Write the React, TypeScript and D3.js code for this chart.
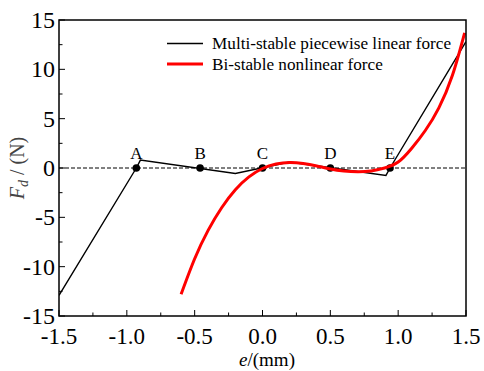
import React from "react";
import * as d3 from "d3";

const W = 484;
const H = 371;

// Multi-stable piecewise linear force: [e (mm), F (N)]
const pieceE = [-1.5, -0.93, -0.9, -0.2, 0.2, 0.91, 0.94, 1.5];
const pieceF = [-12.9, 0, 0.8, -0.55, 0.6, -0.75, 0, 12.8];

// Bi-stable nonlinear force
const nonlinE = [-0.6, -0.5, -0.4, -0.3, -0.2, -0.1, 0.0, 0.1, 0.2, 0.3, 0.4, 0.5, 0.6, 0.7, 0.8, 0.9, 1.0, 1.1, 1.2, 1.3, 1.4, 1.49];
const nonlinF = [-12.8, -9.2, -6.3, -4.0, -2.2, -0.9, -0.05, 0.4, 0.55, 0.45, 0.2, -0.1, -0.3, -0.38, -0.3, 0.0, 0.6, 2.0, 3.8, 6.1, 9.4, 13.7];

// Equilibrium points
const eqLabels = ["A", "B", "C", "D", "E"];
const eqE = [-0.93, -0.46, 0.0, 0.5, 0.94];

const xTicks = [-1.5, -1.0, -0.5, 0.0, 0.5, 1.0, 1.5];
const xMinor = [-1.25, -0.75, -0.25, 0.25, 0.75, 1.25];
const yTicks = [-15, -10, -5, 0, 5, 10, 15];
const yMinor = [-12.5, -7.5, -2.5, 2.5, 7.5, 12.5];

const legendItems = ["Multi-stable piecewise linear force", "Bi-stable nonlinear force"];

export default function App() {
  const L = 59, R = 466, T = 20, B = 316;
  const x = d3.scaleLinear().domain([-1.5, 1.5]).range([L, R]);
  const y = d3.scaleLinear().domain([-15, 15]).range([B, T]);
  const font = "'Liberation Serif', 'Times New Roman', serif";

  const linePiece = d3
    .line<number>()
    .x((_, i) => x(pieceE[i]))
    .y((d) => y(d));
  const lineNon = d3
    .line<number>()
    .x((_, i) => x(nonlinE[i]))
    .y((d) => y(d))
    .curve(d3.curveNatural);

  return (
    <svg width={W} height={H} style={{ position: "absolute", left: 0, top: 0 }} fontFamily={font}>
      <rect width={W} height={H} fill="#fff" />
      <defs>
        <clipPath id="plot">
          <rect x={L} y={T} width={R - L} height={B - T} />
        </clipPath>
      </defs>
      {/* zero dashed line */}
      <line x1={L} x2={R} y1={y(0)} y2={y(0)} stroke="#000" strokeWidth={1} strokeDasharray="4,2" />
      <g clipPath="url(#plot)">
        <path d={linePiece(pieceF) || ""} fill="none" stroke="#000" strokeWidth={1.4} />
      </g>
      {eqE.map((e, i) => (
        <g key={eqLabels[i]}>
          <circle cx={x(e)} cy={y(0)} r={3.8} fill="#000" />
          <text x={x(e)} y={y(0) - 9} fontSize={17} textAnchor="middle" fill="#000">
            {eqLabels[i]}
          </text>
        </g>
      ))}
      <path d={lineNon(nonlinF) || ""} fill="none" stroke="#ff0000" strokeWidth={3} strokeLinecap="butt" />
      {/* ticks */}
      {xTicks.map((t) => (
        <line key={"xt" + t} x1={x(t)} x2={x(t)} y1={B} y2={B - 6} stroke="#000" strokeWidth={1} />
      ))}
      {xMinor.map((t) => (
        <line key={"xm" + t} x1={x(t)} x2={x(t)} y1={B} y2={B - 3.5} stroke="#000" strokeWidth={1} />
      ))}
      {yTicks.map((t) => (
        <line key={"yt" + t} x1={L} x2={L + 6} y1={y(t)} y2={y(t)} stroke="#000" strokeWidth={1} />
      ))}
      {yMinor.map((t) => (
        <line key={"ym" + t} x1={L} x2={L + 3.5} y1={y(t)} y2={y(t)} stroke="#000" strokeWidth={1} />
      ))}
      <rect x={L} y={T} width={R - L} height={B - T} fill="none" stroke="#000" strokeWidth={1.5} />
      {xTicks.map((t) => (
        <text key={"xl" + t} x={x(t)} y={344} fontSize={23} textAnchor="middle" fill="#000">
          {d3.format(".1f")(t).replace("−", "-")}
        </text>
      ))}
      {yTicks.map((t) => (
        <text key={"yl" + t} x={55} y={y(t) + 8} fontSize={24} textAnchor="end" fill="#000">
          {String(t)}
        </text>
      ))}
      {/* axis titles */}
      <text x={267} y={366} fontSize={19} textAnchor="middle" fill="#000">
        <tspan fontStyle="italic">e</tspan>/(mm)
      </text>
      <text transform={`translate(24, ${y(0)}) rotate(-90)`} fontSize={20} textAnchor="middle" fill="#444">
        <tspan fontStyle="italic">F</tspan>
        <tspan fontStyle="italic" fontSize={14} dy={4}>d</tspan>
        <tspan dy={-4}> / (N)</tspan>
      </text>
      {/* legend */}
      <line x1={167} x2={203} y1={43.5} y2={43.5} stroke="#000" strokeWidth={1.4} />
      <text x={212} y={49} fontSize={17.2} fill="#000">{legendItems[0]}</text>
      <line x1={167} x2={203} y1={64} y2={64} stroke="#ff0000" strokeWidth={3} />
      <text x={212} y={70} fontSize={17.2} fill="#000">{legendItems[1]}</text>
    </svg>
  );
}
